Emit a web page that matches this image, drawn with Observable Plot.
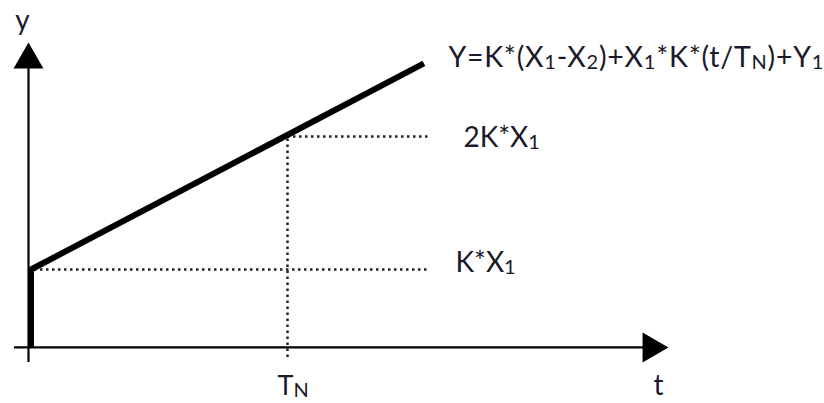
<!DOCTYPE html>
<html>
<head>
<meta charset="utf-8">
<script src="https://cdn.jsdelivr.net/npm/d3@7"></script>
<script src="https://cdn.jsdelivr.net/npm/@observablehq/plot@0.6"></script>
<style>
  html, body { margin: 0; padding: 0; background: #fff; }
  #chart svg { display: block; }
</style>
</head>
<body>
<div id="chart"></div>
<script>
// ---- data (abstract units read from the schematic) ----
const origin = 0.414;          // value where the t axis crosses the y axis
const tN = 1;                  // T_N on the time axis
const levelKX1 = 1;            // K*X1
const level2KX1 = 2;           // 2K*X1
const rampT = [0, 0, 1.517];   // thick output curve: jump at t=0, then ramp
const rampY = [origin, levelKX1, 2.55];
const tAxis = [-0.054, 2.471]; // horizontal axis extent
const yAxis = [0.30, 2.707];   // vertical axis extent
const guideEndT = 1.548;       // where the dotted guides stop
const guideBottom = 0.338;     // lower end of the T_N guide
const formula = "Y=K*(X_1-X_2)+X_1*K*(t/T_N)+Y_1";
const levelLabels = ["K*X_1", "2K*X_1"];
const tickLabel = "T_N";
const xName = "t";
const yName = "y";

const ramp = rampT.map((t, i) => ({t, v: rampY[i]}));
const textColor = "#1a1a2a";
const font = "Lato";
const dotted = {stroke: "#222", strokeWidth: 2.5, strokeDasharray: "2.5,3.5"};

const plot = Plot.plot({
  width: 824,
  height: 403,
  margin: 0,
  style: {background: "#fff", fontFamily: font},
  x: {domain: [-0.1081, 3.0734], axis: null},
  y: {domain: [-0.0075, 3.0226], axis: null},
  marks: [
    // dotted guides
    Plot.ruleY([levelKX1], {x1: 0, x2: guideEndT, ...dotted}),
    Plot.ruleY([level2KX1], {x1: tN, x2: guideEndT, ...dotted}),
    Plot.ruleX([tN], {y1: guideBottom, y2: level2KX1, ...dotted}),
    // axes
    Plot.ruleY([origin], {x1: tAxis[0], x2: tAxis[1] - 0.05, stroke: "#000", strokeWidth: 2.2}),
    Plot.ruleX([0], {y1: yAxis[0], y2: yAxis[1] - 0.1, stroke: "#000", strokeWidth: 2.2}),
    // arrowheads
    Plot.dot([{t: 0, v: yAxis[1]}], {x: "t", y: "v", symbol: "triangle", r: 11.1, fill: "#000", stroke: "none", dy: 17.3}),
    Plot.dot([{t: tAxis[1], v: origin}], {x: "t", y: "v", symbol: "triangle", r: 11.1, fill: "#000", stroke: "none", rotate: 90, dx: -17.3}),
    // output curve
    Plot.line(ramp, {x: "t", y: "v", stroke: "#000", strokeWidth: 6, strokeLinejoin: "miter", strokeLinecap: "butt", dx: 2.5}),
    // labels
    Plot.text([formula], {x: rampT[2], y: rampY[2], textAnchor: "start", dx: 27, dy: -5, fontSize: 28.5, fill: textColor}),
    Plot.text([levelLabels[0]], {x: guideEndT, y: levelKX1, textAnchor: "start", dx: 26, dy: -6, fontSize: 28, fill: textColor}),
    Plot.text([levelLabels[1]], {x: guideEndT, y: level2KX1, textAnchor: "start", dx: 34, dy: 2, fontSize: 28, fill: textColor}),
    Plot.text([tickLabel], {x: tN, y: origin, textAnchor: "start", dx: -10, dy: 39, fontSize: 27, fill: textColor}),
    Plot.text([xName], {x: tAxis[1], y: origin, textAnchor: "middle", dx: -10, dy: 39, fontSize: 28, fill: textColor}),
    Plot.text([yName], {x: 0, y: yAxis[1], textAnchor: "middle", dx: -6, dy: -21, fontSize: 28, fill: textColor})
  ]
});

// render "_x" as a smaller subscript tspan
plot.querySelectorAll("text").forEach(el => {
  const s = el.textContent;
  if (s.startsWith("Y=")) el.setAttribute("letter-spacing", "0.75");
  if (!s.includes("_")) return;
  while (el.firstChild) el.removeChild(el.firstChild);
  const parts = s.split(/(_\w)/);
  let shifted = false;
  parts.forEach(p => {
    if (!p) return;
    const ts = document.createElementNS("http://www.w3.org/2000/svg", "tspan");
    if (p.startsWith("_")) {
      ts.textContent = p.slice(1);
      ts.setAttribute("font-size", "20");
      ts.setAttribute("dy", "2");
      shifted = true;
    } else {
      ts.textContent = p;
      if (shifted) { ts.setAttribute("dy", "-2"); shifted = false; }
    }
    el.appendChild(ts);
  });
});

document.getElementById("chart").appendChild(plot);
</script>
</body>
</html>
